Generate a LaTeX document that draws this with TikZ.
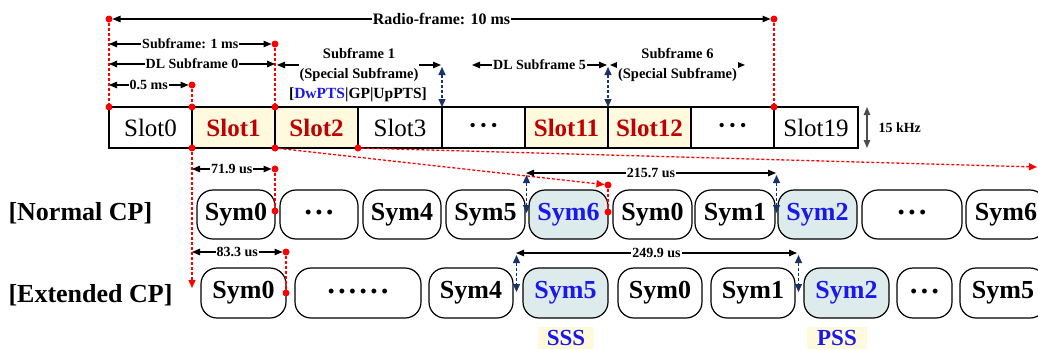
\documentclass[tikz,border=0pt]{standalone}
\usepackage{fontspec}
\setmainfont{Liberation Serif}
\usetikzlibrary{arrows.meta}
\definecolor{slotred}{RGB}{192,0,0}
\definecolor{slotfill}{RGB}{255,249,221}
\definecolor{symfill}{RGB}{222,235,236}
\definecolor{symblue}{RGB}{25,25,235}
\definecolor{navy}{RGB}{25,50,105}
\definecolor{dotred}{RGB}{255,0,0}
\newcommand{\mydots}[1]{{\fontsize{18}{18}\selectfont\foreach \i in {1,...,#1}{\ifnum\i>1\hspace{4.4pt}\fi•}}}
\begin{document}
\begin{tikzpicture}[x=1pt,y=-1pt,
  slot/.style={draw,line width=1.2pt,minimum height=41pt,inner sep=0pt,outer sep=0pt,font=\fontsize{25}{25}\selectfont},
  hslot/.style={slot,fill=slotfill,text=slotred,font=\fontsize{25}{25}\selectfont\bfseries},
  sym/.style={draw,line width=1.2pt,rounded corners=16pt,inner sep=0pt,outer sep=0pt,font=\fontsize{26}{26}\selectfont\bfseries},
  nsym/.style={sym,minimum height=49pt},
  esym/.style={sym,minimum height=50pt},
  hsym/.style={fill=symfill,text=symblue},
  dim/.style={line width=1.1pt,{Triangle[length=8pt,width=6.5pt]}-{Triangle[length=8pt,width=6.5pt]}},
  lbl/.style={fill=white,inner sep=1pt,font=\fontsize{14}{14}\selectfont\bfseries},
  lbltwo/.style={fill=white,inner sep=1pt,align=center,font=\fontsize{14.5}{19.5}\selectfont\bfseries},
  reddash/.style={dotred,line width=1.3pt,dash pattern=on 3pt off 2pt},
  redarrow/.style={reddash,-{Triangle[length=8pt,width=7pt]}},
  rdot/.style={circle,fill=dotred,inner sep=0pt,outer sep=0pt,minimum size=7pt},
  bdim/.style={navy,line width=1.2pt,dash pattern=on 3pt off 2pt,{Triangle[length=8pt,width=7pt]}-{Triangle[length=8pt,width=7pt]}},
  rowlbl/.style={anchor=west,font=\fontsize{26}{26}\selectfont\bfseries},
  syncl/.style={anchor=base,fill=slotfill,text=symblue,inner ysep=3pt,font=\fontsize{23}{23}\selectfont\bfseries}
]
\useasboundingbox (0,0) rectangle (1038,349);

% slots
\node[slot,minimum width=83pt] (s0) at (150.5,127.5) {Slot0};
\node[hslot,minimum width=83pt] (s1) at (233.5,127.5) {Slot1};
\node[hslot,minimum width=83pt] (s2) at (316.5,127.5) {Slot2};
\node[slot,minimum width=84pt] (s3) at (400,127.5) {Slot3};
\node[slot,minimum width=83pt] (s4) at (483.5,127.5) {\mydots{3}};
\node[hslot,minimum width=83pt] (s5) at (566.5,127.5) {Slot11};
\node[hslot,minimum width=83pt] (s6) at (649.5,127.5) {Slot12};
\node[slot,minimum width=83pt] (s7) at (732.5,127.5) {\mydots{3}};
\node[slot,minimum width=84pt] (s8) at (816,127.5) {Slot19};

% normal CP symbols
\node[rowlbl] (lnorm) at (5,213) {[Normal CP]};
\node[nsym,minimum width=78pt] (n0) at (236,214.5) {Sym0};
\node[nsym,minimum width=78pt] (n1) at (319,214.5) {\mydots{3}};
\node[nsym,minimum width=78pt] (n2) at (402,214.5) {Sym4};
\node[nsym,minimum width=79pt] (n3) at (485.5,214.5) {Sym5};
\node[nsym,hsym,minimum width=79pt] (n4) at (568.5,214.5) {Sym6};
\node[nsym,minimum width=79pt] (n5) at (652.5,214.5) {Sym0};
\node[nsym,minimum width=80pt] (n6) at (735,214.5) {Sym1};
\node[nsym,hsym,minimum width=79pt] (n7) at (817.5,214.5) {Sym2};
\node[nsym,minimum width=100pt] (n8) at (912,214.5) {\mydots{3}};
\node[nsym,minimum width=80pt] (n9) at (1006,214.5) {Sym6};

% extended CP symbols
\node[rowlbl] (lext) at (5,295) {[Extended CP]};
\node[esym,minimum width=85pt] (e0) at (243.5,293) {Sym0};
\node[esym,minimum width=126pt] (e1) at (358,293) {\mydots{6}};
\node[esym,minimum width=84pt] (e2) at (471,293) {Sym4};
\node[esym,hsym,minimum width=85pt] (e3) at (565.5,293) {Sym5};
\node[esym,minimum width=84pt] (e4) at (660,293) {Sym0};
\node[esym,minimum width=84pt] (e5) at (753,293) {Sym1};
\node[esym,hsym,minimum width=85pt] (e6) at (846.5,293) {Sym2};
\node[esym,minimum width=55pt] (e7) at (924.5,293) {\mydots{3}};
\node[esym,minimum width=86pt] (e8) at (1003,293) {Sym5};

% SSS / PSS
\node[syncl,inner xsep=8.5pt] (sss) at (566,345.5) {SSS};
\node[syncl,inner xsep=10pt] (pss) at (837,345.5) {PSS};

% red dots
\node[rdot] (rf1) at (109,19) {};
\node[rdot] (rf2) at (774,19) {};
\node[rdot] (sf) at (275,44) {};
\node[rdot] (hm) at (192,85) {};
\node[rdot] (t0) at (s0.north west) {};
\node[rdot] (t1) at (s1.north west) {};
\node[rdot] (t2) at (s2.north west) {};
\node[rdot] (t8) at (s8.north west) {};
\node[rdot] (b1) at (s1.south west) {};
\node[rdot] (b2) at (s2.south west) {};
\node[rdot] (b3) at (s3.south west) {};
\node[rdot] (p1) at (608,185) {};
\node[rdot] (p2) at (608,212) {};
\node[rdot] (q1) at (275,169) {};
\node[rdot] (q2) at (275,211) {};
\node[rdot] (r1) at (286,252) {};
\node[rdot] (r2) at (286,293) {};

% free ends
\coordinate (a1) at (109,44);
\coordinate (a2) at (109,64);
\coordinate (a3) at (275,64);
\coordinate (a4) at (109,85);
\coordinate (c1) at (277,65);
\coordinate (c2) at (441,65);
\coordinate (c3) at (472,65);
\coordinate (c4) at (607,65);
\coordinate (c5) at (610,65);
\coordinate (c6) at (745,65);
\coordinate (u1) at (442,67);
\coordinate (u2) at (608,67);
\coordinate (k1) at (867,107);
\coordinate (k2) at (867,148);
\coordinate (v1) at (192,288);
\coordinate (w1) at (1037,167);
\coordinate (x1) at (192,169);
\coordinate (x2) at (192,252);
\coordinate (y1) at (526,173);
\coordinate (y2) at (776,173);
\coordinate (z1) at (516,253);
\coordinate (z2) at (797,253);
\coordinate (g1) at (526.5,175);
\coordinate (g2) at (526.5,213);
\coordinate (g3) at (776.5,175);
\coordinate (g4) at (776.5,213);
\coordinate (h1) at (516.5,255);
\coordinate (h2) at (516.5,292);
\coordinate (h3) at (798.5,255);
\coordinate (h4) at (798.5,292);

% red dashed guides
\draw[reddash] (rf1) -- (t0);
\draw[reddash] (sf) -- (t2);
\draw[reddash] (hm) -- (t1);
\draw[reddash] (rf2) -- (t8);
\draw[redarrow] (b1) -- (v1);
\draw[redarrow] (b2) -- (p1);
\draw[redarrow] (b3) -- (w1);
\draw[reddash] (p1) -- (p2);
\draw[reddash] (q1) -- (q2);
\draw[reddash] (r1) -- (r2);

% dimension arrows
\draw[dim] (rf1) -- node[lbl,font=\fontsize{16}{16}\selectfont\bfseries] {Radio-frame: 10 ms} (rf2);
\draw[dim] (a1) -- node[lbl] {Subframe: 1 ms} (sf);
\draw[dim] (a2) -- node[lbl] {DL Subframe 0} (a3);
\draw[dim] (a4) -- node[lbl] {0.5 ms} (hm);
\draw[dim] (c1) -- node[lbltwo] {Subframe 1\\(Special Subframe)} (c2);
\draw[dim] (c3) -- node[lbl] {DL Subframe 5} (c4);
\draw[dim] (c5) -- node[lbltwo] {Subframe 6\\(Special Subframe)} (c6);
\node[font=\fontsize{15.5}{15.5}\selectfont\bfseries] (pts) at (358,95) {[\textcolor{symblue}{DwPTS}|GP|UpPTS]};
\draw[dim,black!70] (k1) -- (k2);
\node[anchor=west,font=\fontsize{14}{14}\selectfont\bfseries] (khz) at (875,128) {15 kHz};
\draw[dim] (x1) -- node[lbl] {71.9 us} (q1);
\draw[dim] (x2) -- node[lbl] {83.3 us} (r1);
\draw[dim] (y1) -- node[lbl] {215.7 us} (y2);
\draw[dim] (z1) -- node[lbl] {249.9 us} (z2);

% blue dashed markers
\draw[bdim] (u1) -- (s3.north east);
\draw[bdim] (u2) -- (s5.north east);
\draw[bdim] (g1) -- (g2);
\draw[bdim] (g3) -- (g4);
\draw[bdim] (h1) -- (h2);
\draw[bdim] (h3) -- (h4);
\end{tikzpicture}
\end{document}
